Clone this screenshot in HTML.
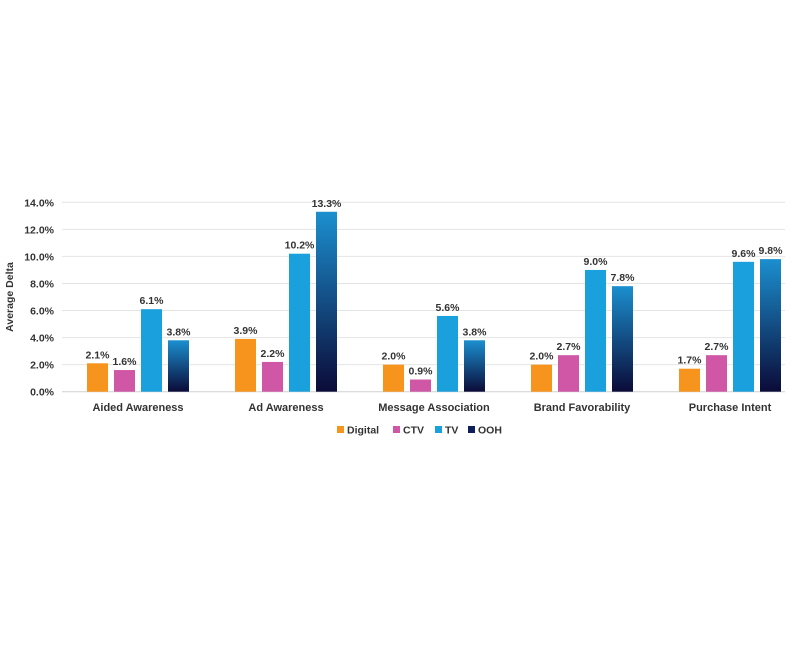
<!DOCTYPE html>
<html><head><meta charset="utf-8"><style>
body{margin:0;background:#fff}
svg text{font-family:"Liberation Sans",sans-serif;font-weight:bold;fill:#333}
</style></head><body>
<svg width="800" height="640">
<defs><linearGradient id="oohg" x1="0" y1="0" x2="0" y2="1"><stop offset="0" stop-color="#1b8fcf"/><stop offset="1" stop-color="#0b0b38"/></linearGradient></defs>
<g id="grid"></g><g id="bars"></g><g id="legend"></g>
<text transform="translate(13,297) rotate(-90)" text-anchor="middle" font-size="10.5">Average Delta</text>
</svg>
<script>
const categories=["Aided Awareness","Ad Awareness","Message Association","Brand Favorability","Purchase Intent"];
const seriesNames=["Digital","CTV","TV","OOH"];
const digital=[2.1,3.9,2.0,2.0,1.7];
const ctv=[1.6,2.2,0.9,2.7,2.7];
const tv=[6.1,10.2,5.6,9.0,9.6];
const ooh=[3.8,13.3,3.8,7.8,9.8];
const yTicks=[0,2,4,6,8,10,12,14];
const colors=["#f7941d","#d056a6","#1aa0dc","url(#oohg)"];
const NS="http://www.w3.org/2000/svg";
const y0=391.7,yTop=202.3,yMax=14;
const y=v=>y0-(y0-yTop)*v/yMax;
const gx=i=>138+148*i;
const bw=21,bs=27;
function mk(t,a,p){const e=document.createElementNS(NS,t);for(const k in a)e.setAttribute(k,a[k]);p.appendChild(e);return e;}
const grid=document.getElementById('grid'),bars=document.getElementById('bars'),leg=document.getElementById('legend');
yTicks.forEach(t=>{
 const l=mk('line',{x1:62,x2:785,y1:y(t),y2:y(t),stroke:t===0?'#d0d0d0':'#e4e4e4','stroke-width':1},grid);
 
 
 const tx=mk('text',{x:54,y:y(t)+4,'text-anchor':'end','font-size':10.5},grid);
 tx.textContent=t.toFixed(1)+'%';
 
 
});
const series=[digital,ctv,tv,ooh];
categories.forEach((c,i)=>{
 series.forEach((s,j)=>{
  const x=gx(i)-51+bs*j;
  const r=mk('rect',{x:x,y:y(s[i]),width:bw,height:y0-y(s[i]),fill:colors[j]},bars);
  
  
  const t=mk('text',{x:x+bw/2,y:y(s[i])-5,'text-anchor':'middle','font-size':10.5},bars);
  t.textContent=s[i].toFixed(1)+'%';
  
  
 });
 const t=mk('text',{x:gx(i),y:411,'text-anchor':'middle','font-size':11},bars);
 t.textContent=c;
 
 
});
const lx=[337,393,435,468];
seriesNames.forEach((n,j)=>{
 const r=mk('rect',{x:lx[j],y:426,width:7,height:7,fill:j===3?'#0d1f5c':colors[j]},leg);
 
 
 const t=mk('text',{x:lx[j]+10,y:433.5,'font-size':10.5},leg);
 t.textContent=n;
 
 
});
</script>
</body></html>
